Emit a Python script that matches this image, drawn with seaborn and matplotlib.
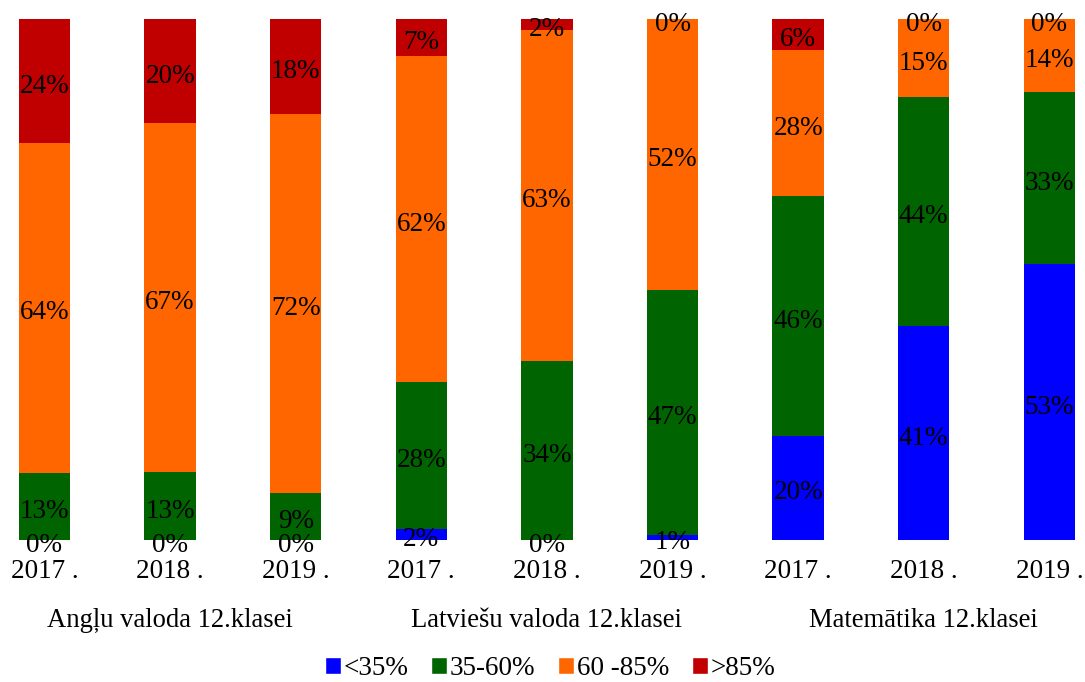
import pandas as pd
import numpy as np
import seaborn as sns
import matplotlib.pyplot as plt
from matplotlib.patches import Patch

# values (percent of students per score band)
subjects = ['Angļu valoda 12.klasei', 'Latviešu valoda 12.klasei', 'Matemātika 12.klasei']
years = ['2017 .', '2018 .', '2019 .']
bands = ['<35%', '35-60%', '60 -85%', '>85%']
below_35 = [0, 0, 0, 2, 0, 1, 20, 41, 53]
from_35_60 = [13, 13, 9, 28, 34, 47, 46, 44, 33]
from_60_85 = [64, 67, 72, 62, 63, 52, 28, 15, 14]
above_85 = [24, 20, 18, 7, 2, 0, 6, 0, 0]
colors = ['#0000FF', '#006400', '#FF6600', '#C00000']

sns.set_style('white')
plt.rcParams['font.family'] = ['Liberation Serif', 'DejaVu Serif']
plt.rcParams['text.color'] = 'black'
plt.rcParams['xtick.color'] = 'black'

keys = [s + ' ' + y for s in subjects for y in years]
vals = np.array([below_35, from_35_60, from_60_85, above_85], dtype=float)
shares = vals / vals.sum(axis=0) * 100  # 100% stacked
cum = shares.cumsum(axis=0)

df = pd.DataFrame({'key': keys})
for i, b in enumerate(bands):
    df[b] = cum[i]

fig = plt.figure(figsize=(10.85, 6.82), dpi=100)
ax = fig.add_axes([0, 0.2082, 1, 0.7639])

# draw cumulative bars from the top band down so lower bands sit on top
for i in range(3, -1, -1):
    sns.barplot(data=df, x='key', y=bands[i], order=keys, color=colors[i],
                width=0.41, saturation=1, linewidth=0, ax=ax)

for j in range(len(keys)):
    for i in range(4):
        lo = cum[i - 1][j] if i > 0 else 0
        mid = (lo + cum[i][j]) / 2
        ax.text(j, mid - 0.4, f'{int(vals[i][j])}%', ha='center', va='center_baseline',
                fontsize=19.5, color='black')

ax.set_xlim(-0.354, 8.284)
ax.set_ylim(0, 100)
ax.set_xticks(range(len(keys)))
ax.set_xticklabels(years * 3, fontsize=19.5)
ax.tick_params(axis='x', length=0, pad=14)
ax.set_yticks([])
ax.set_xlabel('')
ax.set_ylabel('')
sns.despine(ax=ax, left=True, bottom=True)

for k, s in enumerate(subjects):
    ax.text(3 * k + 1, -0.148, s, transform=ax.get_xaxis_transform(),
            ha='center', va='center_baseline', fontsize=19.2)

handles = [Patch(facecolor=c, label=b) for c, b in zip(colors, bands)]
fig.legend(handles=handles, loc='center', bbox_to_anchor=(0.507, 0.02), ncol=4,
           frameon=False, fontsize=19.5, handlelength=0.58, handleheight=0.62,
           handletextpad=0.1, columnspacing=0.85)

fig.savefig('out.png', dpi=100)
